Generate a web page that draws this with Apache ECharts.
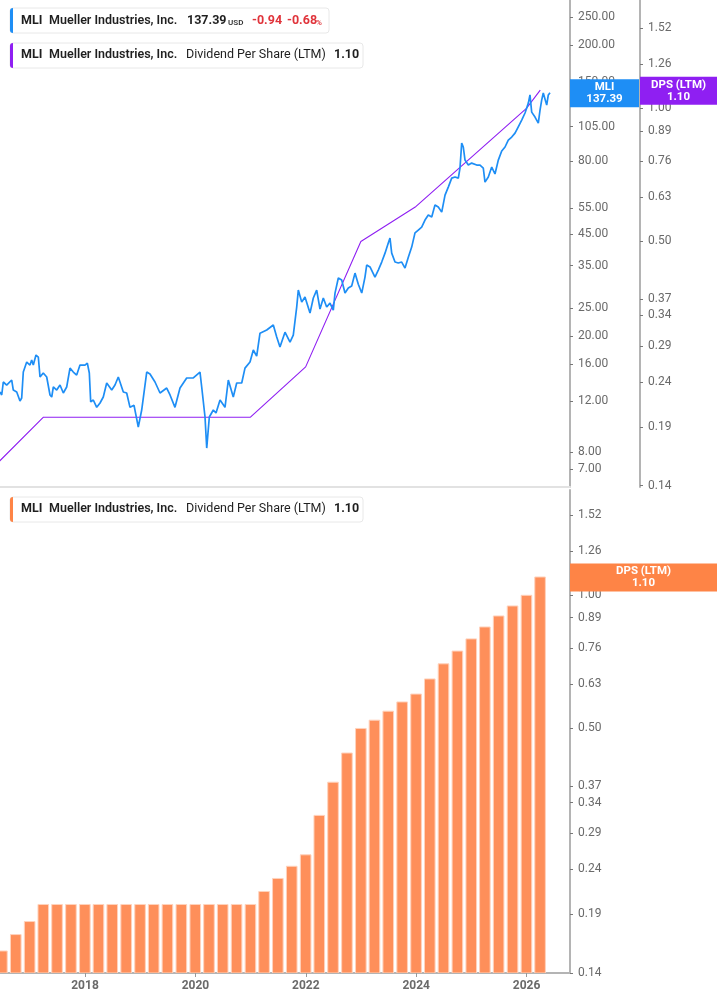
<!DOCTYPE html>
<html><head><meta charset="utf-8">
<script src="https://cdn.jsdelivr.net/npm/echarts@6/dist/echarts.min.js"></script>
<style>html,body{margin:0;padding:0;background:#fff}#c{width:717px;height:1005px}</style>
</head><body><div id="c"></div>
<script>
// ---------------- data ----------------
const yearTicks = [2018, 2020, 2022, 2024, 2026];
const priceTicks = [7, 8, 12, 16, 20, 25, 35, 45, 55, 80, 105, 130, 150, 200, 250];
const dpsTicks = [0.14, 0.19, 0.24, 0.29, 0.34, 0.37, 0.50, 0.63, 0.76, 0.89, 1.00, 1.26, 1.52];

// MLI price (decimal year, USD)
const priceYears = [2016.460,2016.491,2016.520,2016.581,2016.672,2016.701,2016.763,2016.822,2016.853,2016.882,
2016.944,2017.003,2017.034,2017.063,2017.112,2017.154,2017.185,2017.244,2017.306,2017.366,
2017.397,2017.426,2017.487,2017.547,2017.607,2017.668,2017.728,2017.788,2017.849,2017.909,
2018.000,2018.042,2018.078,2018.103,2018.150,2018.212,2018.272,2018.331,2018.393,2018.422,
2018.484,2018.543,2018.603,2018.634,2018.694,2018.755,2018.815,2018.888,2018.965,2019.027,
2019.118,2019.177,2019.268,2019.359,2019.480,2019.540,2019.630,2019.721,2019.842,2019.962,
2020.083,2020.114,2020.174,2020.205,2020.252,2020.324,2020.373,2020.446,2020.536,2020.596,
2020.686,2020.748,2020.839,2020.898,2020.989,2021.049,2021.110,2021.170,2021.292,2021.411,
2021.473,2021.532,2021.623,2021.714,2021.773,2021.835,2021.864,2021.926,2021.985,2022.076,
2022.136,2022.197,2022.257,2022.317,2022.378,2022.438,2022.498,2022.529,2022.589,2022.650,
2022.710,2022.770,2022.831,2022.891,2022.951,2023.013,2023.072,2023.103,2023.163,2023.253,
2023.313,2023.375,2023.435,2023.494,2023.525,2023.556,2023.616,2023.676,2023.737,2023.797,
2023.857,2023.918,2023.978,2024.038,2024.099,2024.159,2024.219,2024.281,2024.340,2024.400,
2024.462,2024.522,2024.581,2024.643,2024.703,2024.763,2024.793,2024.824,2024.853,2024.884,
2024.944,2025.005,2025.096,2025.156,2025.215,2025.246,2025.306,2025.368,2025.427,2025.487,
2025.549,2025.609,2025.668,2025.730,2025.790,2025.849,2025.911,2025.971,2026.031,2026.061,
2026.092,2026.152,2026.212,2026.243,2026.273,2026.302,2026.364,2026.393,2026.424];
const priceValues = [12.87,12.57,13.93,13.6,14.15,13.07,12.87,11.99,12.27,15.07,
16.31,15.93,16.57,15.93,17.24,16.97,14.49,14.96,14.49,12.57,
12.37,13.39,13.07,13.6,12.77,13.39,15.55,15.07,14.72,15.93,
15.93,16.18,14.96,11.9,12.08,11.4,11.8,12.37,13.82,13.93,
13.07,13.6,14.49,14.38,12.87,12.77,11.4,11.58,9.76,11.16,
15.07,14.84,13.93,12.77,13.28,12.57,11.4,13.28,14.38,14.38,
15.07,13.39,10.56,8.26,10.56,11.16,10.9,12.08,11.4,14.15,
12.37,13.82,13.82,15.55,16.31,17.94,17.1,20.5,21.01,21.86,
19.9,18.37,20.66,19.1,20.17,25.2,28.83,26.2,27.3,24.03,
27.07,28.83,24.8,27.07,25.2,26.0,24.61,28.15,31.7,31.2,
28.15,29.3,29.76,32.97,30.2,28.15,31.95,35.14,34.6,31.95,
33.77,35.98,38.6,41.8,43.5,38.6,35.98,35.7,35.98,34.3,
37.4,40.5,45.3,46.33,47.4,50.15,52.2,51.4,56.5,55.6,
53.4,61.1,65.1,69.9,70.5,69.9,75.7,92.2,89.4,80.6,
77.5,78.7,77.5,77.5,75.7,67.7,70.5,76.3,72.2,80.6,
86.6,89.4,94.4,96.7,99.8,104.9,110.6,117,126.5,135,
117.8,113.3,108,119.7,129.5,137,124.5,135,137.39];

// Dividend per share (LTM) line in the price panel
const dpsLineYears = [2016.247, 2017.247, 2020.997, 2021.997, 2022.997, 2023.997, 2025.997, 2026.247];
const dpsLineValues = [0.15, 0.20, 0.20, 0.26, 0.50, 0.60, 1.00, 1.10];

// Dividend per share (LTM) quarterly bars
const barDates = ['2016-06-30','2016-09-30','2016-12-31','2017-03-31','2017-06-30','2017-09-30','2017-12-31',
'2018-03-31','2018-06-30','2018-09-30','2018-12-31','2019-03-31','2019-06-30','2019-09-30','2019-12-31',
'2020-03-31','2020-06-30','2020-09-30','2020-12-31','2021-03-31','2021-06-30','2021-09-30','2021-12-31',
'2022-03-31','2022-06-30','2022-09-30','2022-12-31','2023-03-31','2023-06-30','2023-09-30','2023-12-31',
'2024-03-31','2024-06-30','2024-09-30','2024-12-31','2025-03-31','2025-06-30','2025-09-30','2025-12-31','2026-03-31'];
const barValues = [0.157,0.171,0.183,0.20,0.20,0.20,0.20,0.20,0.20,0.20,0.20,0.20,0.20,0.20,0.20,0.20,0.20,0.20,0.20,
0.214,0.229,0.244,0.259,0.318,0.378,0.44,0.50,0.522,0.547,0.574,0.598,0.647,0.70,0.748,0.797,0.848,0.898,0.946,1.00,1.10];

const lastPrice = 137.39, lastDps = 1.10;

// ---------------- helpers ----------------
function toYear(s) {
  const d = new Date(s + 'T00:00:00Z'), y = d.getUTCFullYear();
  const a = Date.UTC(y, 0, 1), b = Date.UTC(y + 1, 0, 1);
  return y + (d.getTime() - a) / (b - a);
}
const X_MIN = 2016.46, X_MAX = 2026.786;
const BLUE = '#1e8ef5', PURPLE = '#8f1ff2', ORANGE = '#fe8446', BAR = '#fe8f5a';
const AX = '#b4b4b4', LBL = '#6a6a6a', FONT = 'Roboto';

const chart = echarts.init(document.getElementById('c'), null, { renderer: 'canvas' });

function yAxisCommon(ticks, extra) {
  return Object.assign({
    type: 'log', logBase: 10, position: 'right',
    axisLine: { show: true, lineStyle: { color: AX, width: 2 } },
    axisTick: { show: true, length: 3, customValues: ticks, lineStyle: { color: '#777', width: 1 } },
    axisLabel: { show: true, customValues: ticks, margin: 8, color: LBL, fontSize: 12, fontFamily: FONT,
      padding: [3, 0, 0, 0], formatter: v => Number(v).toFixed(2) },
    splitLine: { show: false }
  }, extra);
}

const option = {
  animation: false,
  backgroundColor: '#fff',
  grid: [
    { left: 0, right: 147, top: 0, height: 487 },
    { left: 0, right: 147, top: 490, height: 483 }
  ],
  xAxis: [
    { type: 'value', gridIndex: 0, min: X_MIN, max: X_MAX,
      axisLine: { show: true, lineStyle: { color: '#e2e2e2', width: 2 } },
      axisTick: { show: false }, axisLabel: { show: false }, splitLine: { show: false } },
    { type: 'value', gridIndex: 1, min: X_MIN, max: X_MAX,
      axisLine: { show: true, lineStyle: { color: AX, width: 2 } },
      axisTick: { show: true, length: 4, customValues: yearTicks, lineStyle: { color: '#999' } },
      axisLabel: { show: true, customValues: yearTicks, margin: 7, color: LBL, fontSize: 12, fontWeight: 'bold',
        fontFamily: FONT, formatter: v => String(Math.round(v)) },
      splitLine: { show: false } }
  ],
  yAxis: [
    yAxisCommon(priceTicks, { gridIndex: 0, min: 6.07, max: 286 }),
    yAxisCommon(dpsTicks, { gridIndex: 0, min: 0.139, max: 1.76, offset: 70 }),
    yAxisCommon(dpsTicks, { gridIndex: 1, min: 0.14, max: 1.73 })
  ],
  series: [
    { type: 'line', name: 'DPS line', xAxisIndex: 0, yAxisIndex: 1, symbol: 'none',
      lineStyle: { color: PURPLE, width: 1.1 }, data: dpsLineYears.map((y, i) => [y, dpsLineValues[i]]), z: 3 },
    { type: 'line', name: 'MLI', xAxisIndex: 0, yAxisIndex: 0, symbol: 'none',
      lineStyle: { color: BLUE, width: 1.7 }, data: priceYears.map((y, i) => [y, priceValues[i]]), z: 4 },
    { type: 'custom', name: 'DPS bars', xAxisIndex: 1, yAxisIndex: 2, clip: true,
      data: barDates.map((d, i) => [toYear(d), barValues[i]]),
      renderItem: function (params, api) {
        const x = api.value(0), v = api.value(1), half = 0.096;
        const p1 = api.coord([x - half, v]);
        const p2 = api.coord([x + half, 0.14]);
        return { type: 'rect', shape: { x: p1[0], y: p1[1], width: p2[0] - p1[0], height: p2[1] - p1[1] },
          style: { fill: BAR, stroke: '#ffd2bc', lineWidth: 1 } };
      } }
  ]
};
chart.setOption(option);

// ---------------- overlays: legends and last-value labels ----------------
const LF = 12.5;
function legendBox(y, w, color) {
  return [
    { type: 'rect', shape: { x: 10, y: y, width: w, height: 25, r: 3 }, style: { fill: '#fff', stroke: '#e8e8e8', lineWidth: 1 }, z: 100 },
    { type: 'rect', shape: { x: 10, y: y, width: 3, height: 25, r: [3, 0, 0, 3] }, style: { fill: color }, z: 101 }
  ];
}
function txt(x, y, s, opts) {
  return { type: 'text', x: x, y: y, z: 102, style: Object.assign({ text: s, fill: '#1f1f1f', font: '600 ' + LF + 'px ' + FONT, textVerticalAlign: 'middle' }, opts || {}) };
}
function legendText(y, rest) {
  return [txt(21, y, 'MLI', { font: '700 ' + LF + 'px ' + FONT }), txt(49, y, 'Mueller Industries, Inc.', { font: '600 ' + LF + 'px ' + FONT })].concat(rest);
}
const g = [];
// legend 1
g.push(...legendBox(8, 319, BLUE));
g.push(...legendText(21, [
  txt(187, 21, lastPrice.toFixed(2), { font: '700 ' + LF + 'px ' + FONT }),
  txt(228, 22.5, 'USD', { font: '600 8px ' + FONT, fill: '#333' }),
  txt(252, 21, '-0.94', { font: '700 ' + LF + 'px ' + FONT, fill: '#e0343b' }),
  txt(287, 21, '-0.68', { font: '700 ' + LF + 'px ' + FONT, fill: '#e0343b' }),
  txt(316, 22.5, '%', { font: '600 8px ' + FONT, fill: '#e0343b' })
]));
// legend 2
g.push(...legendBox(43, 353, PURPLE));
g.push(...legendText(55, [
  txt(186, 55, 'Dividend Per Share (LTM)', { font: '400 ' + LF + 'px ' + FONT }),
  txt(334, 55, lastDps.toFixed(2), { font: '700 ' + LF + 'px ' + FONT })
]));
// legend 3
g.push(...legendBox(497, 353, ORANGE));
g.push(...legendText(509, [
  txt(186, 509, 'Dividend Per Share (LTM)', { font: '400 ' + LF + 'px ' + FONT }),
  txt(334, 509, lastDps.toFixed(2), { font: '700 ' + LF + 'px ' + FONT })
]));

// last value labels on axes
const yPrice = chart.convertToPixel({ yAxisIndex: 0 }, lastPrice);
const yDpsTop = chart.convertToPixel({ yAxisIndex: 1 }, lastDps);
const yDpsBot = chart.convertToPixel({ yAxisIndex: 2 }, lastDps);
function tag(x, w, yc, color, line1, line2) {
  return [
    { type: 'rect', shape: { x: x, y: yc - 13.5, width: w, height: 28 }, style: { fill: color }, z: 110 },
    { type: 'text', x: x + w / 2, y: yc + 0.5, z: 111,
      style: { text: line1 + '\n' + line2, fill: '#fff', font: '700 11.5px ' + FONT, textAlign: 'center', textVerticalAlign: 'middle', lineHeight: 12 } }
  ];
}
g.push(...tag(570, 69, yPrice, BLUE, 'MLI', lastPrice.toFixed(2)));
g.push(...tag(640, 77, yDpsTop, PURPLE, 'DPS (LTM)', lastDps.toFixed(2)));
g.push(...tag(570, 147, yDpsBot, ORANGE, 'DPS (LTM)', lastDps.toFixed(2)));

chart.setOption({ graphic: g });
</script>
</body></html>
